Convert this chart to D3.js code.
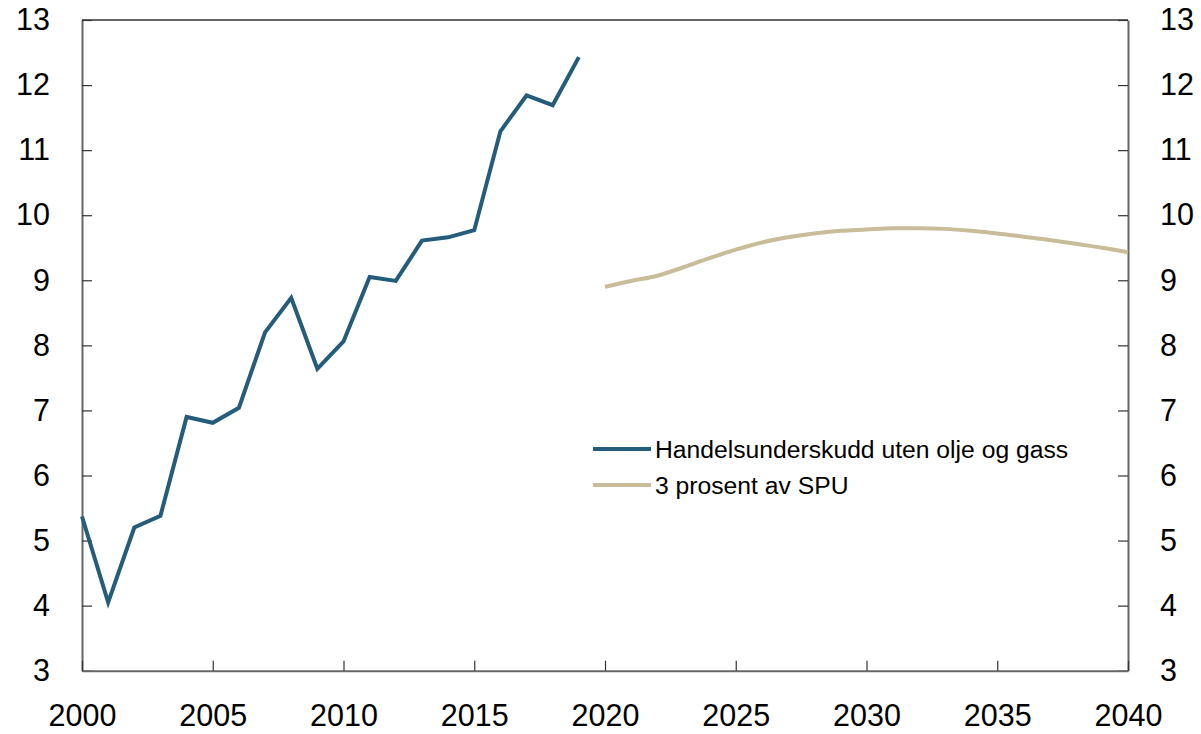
<!DOCTYPE html>
<html>
<head>
<meta charset="utf-8">
<script src="https://cdn.jsdelivr.net/npm/d3@7"></script>
<style>
  html, body { margin: 0; padding: 0; background: #fff; }
  svg { display: block; font-family: "Liberation Sans", Arial, Helvetica, sans-serif; }
</style>
</head>
<body>
<svg id="chart" width="1201" height="734"></svg>
<script>
// ---- data ----
const tradeYears = [2000,2001,2002,2003,2004,2005,2006,2007,2008,2009,2010,2011,2012,2013,2014,2015,2016,2017,2018,2019];
const tradeDeficit = [5.37,4.05,5.20,5.38,6.90,6.81,7.04,8.20,8.73,7.64,8.06,9.05,8.99,9.61,9.66,9.77,11.29,11.84,11.69,12.43];
const spuYears = [2020,2021,2022,2023,2024,2025,2026,2027,2028,2029,2030,2031,2032,2033,2034,2035,2036,2037,2038,2039,2040];
const spuThreePct = [8.90,8.99,9.07,9.20,9.34,9.47,9.58,9.66,9.72,9.76,9.78,9.80,9.80,9.79,9.76,9.72,9.67,9.62,9.56,9.50,9.43];
const xTicks = [2000,2005,2010,2015,2020,2025,2030,2035,2040];
const yTicks = [3,4,5,6,7,8,9,10,11,12,13];
const seriesNames = ["Handelsunderskudd uten olje og gass", "3 prosent av SPU"];
const seriesColors = ["#245c7c", "#c8bc99"];

// ---- layout ----
(function () {
const svg = d3.select("#chart");
const pLeft = 82, pRight = 1128, pTop = 20, pBottom = 670.7;
const x = d3.scaleLinear().domain([2000, 2040]).range([pLeft, pRight]);
const y = d3.scaleLinear().domain([3, 13]).range([pBottom, pTop]);

const tickFont = "30.5px";

function styleAxis(g) {
  g.select(".domain").attr("stroke", "#666").attr("stroke-width", 2);
  g.selectAll(".tick line").attr("stroke", "#333").attr("stroke-width", 1.2);
  g.selectAll(".tick text").attr("fill", "#000").style("font-size", tickFont)
    .style("font-family", "'Liberation Sans', Arial, Helvetica, sans-serif");
}

// top frame line
svg.append("line").attr("x1", pLeft).attr("x2", pRight).attr("y1", pTop).attr("y2", pTop)
  .attr("stroke", "#666").attr("stroke-width", 2);

const gLeft = svg.append("g").attr("transform", `translate(${pLeft},0)`)
  .call(d3.axisLeft(y).tickValues(yTicks).tickFormat(d3.format("d")).tickSizeInner(-10).tickSizeOuter(0).tickPadding(32));
styleAxis(gLeft);

const gRight = svg.append("g").attr("transform", `translate(${pRight},0)`)
  .call(d3.axisRight(y).tickValues(yTicks).tickFormat(d3.format("d")).tickSizeInner(-10).tickSizeOuter(0).tickPadding(32));
styleAxis(gRight);

const gBottom = svg.append("g").attr("transform", `translate(0,${pBottom})`)
  .call(d3.axisBottom(x).tickValues(xTicks).tickFormat(d3.format("d")).tickSizeInner(-10).tickSizeOuter(0).tickPadding(34));
styleAxis(gBottom);

// ---- lines ----
const tradeData = tradeYears.map((yr, i) => ({ x: yr, y: tradeDeficit[i] }));
const spuData = spuYears.map((yr, i) => ({ x: yr, y: spuThreePct[i] }));

svg.append("path").datum(tradeData)
  .attr("fill", "none").attr("stroke", seriesColors[0]).attr("stroke-width", 4)
  .attr("stroke-linejoin", "miter")
  .attr("d", d3.line().x(d => x(d.x)).y(d => y(d.y)));

svg.append("path").datum(spuData)
  .attr("fill", "none").attr("stroke", seriesColors[1]).attr("stroke-width", 4)
  .attr("d", d3.line().curve(d3.curveMonotoneX).x(d => x(d.x)).y(d => y(d.y)));

// ---- legend ----
const legend = svg.append("g").attr("transform", "translate(593,449)");
seriesNames.forEach((name, i) => {
  const row = legend.append("g").attr("transform", `translate(0,${i * 36})`);
  row.append("line").attr("x1", 0).attr("x2", 58).attr("y1", 0).attr("y2", 0)
    .attr("stroke", seriesColors[i]).attr("stroke-width", 4);
  row.append("text").attr("x", 62).attr("y", 0).attr("dy", "0.36em")
    .style("font-size", "24.7px").attr("fill", "#000").text(name);
});
})();
</script>
</body>
</html>
